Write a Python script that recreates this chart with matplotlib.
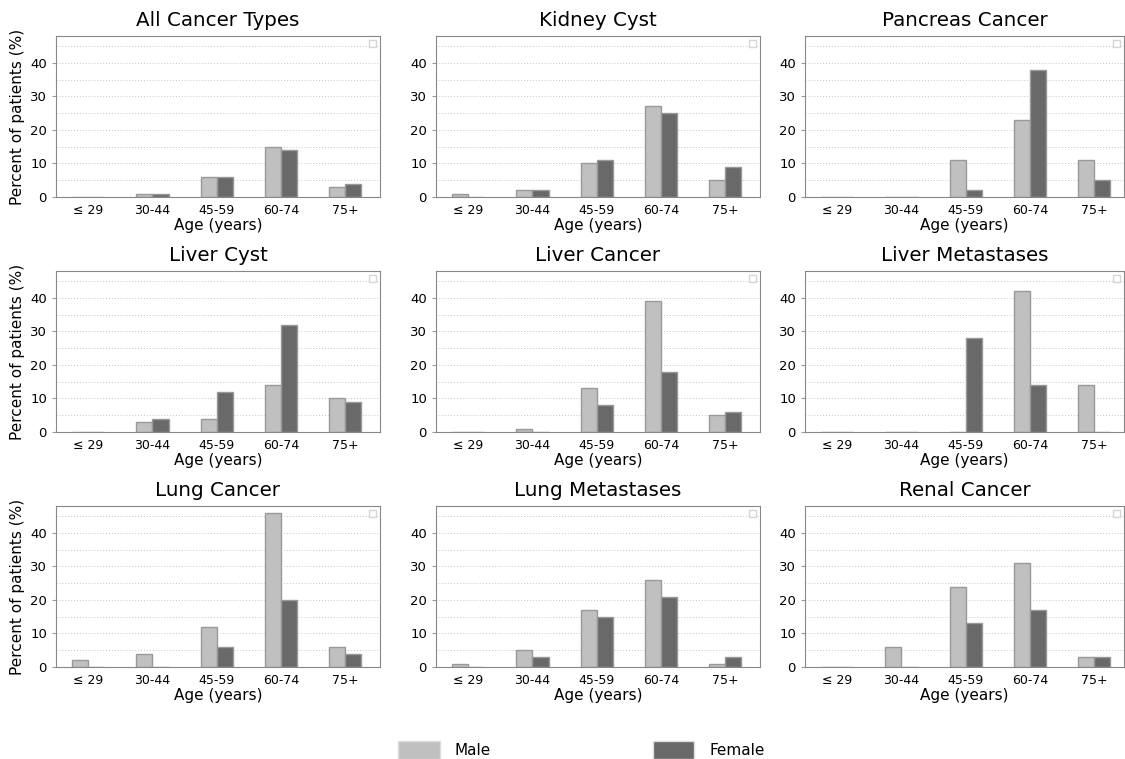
import matplotlib.pyplot as plt
import matplotlib.patches as mpatches
import numpy as np

age_groups = ["\u2264 29", "30-44", "45-59", "60-74", "75+"]

titles = ["All Cancer Types", "Kidney Cyst", "Pancreas Cancer",
          "Liver Cyst", "Liver Cancer", "Liver Metastases",
          "Lung Cancer", "Lung Metastases", "Renal Cancer"]

male = [
    [0, 1, 6, 15, 3],
    [1, 2, 10, 27, 5],
    [0, 0, 11, 23, 11],
    [0, 3, 4, 14, 10],
    [0, 1, 13, 39, 5],
    [0, 0, 0, 42, 14],
    [2, 4, 12, 46, 6],
    [1, 5, 17, 26, 1],
    [0, 6, 24, 31, 3],
]
female = [
    [0, 1, 6, 14, 4],
    [0, 2, 11, 25, 9],
    [0, 0, 2, 38, 5],
    [0, 4, 12, 32, 9],
    [0, 0, 8, 18, 6],
    [0, 0, 28, 14, 0],
    [0, 0, 6, 20, 4],
    [0, 3, 15, 21, 3],
    [0, 0, 13, 17, 3],
]

MALE_C = "#c0c0c0"
FEMALE_C = "#696969"
EDGE_C = "#999999"

fig = plt.figure(figsize=(11.25, 7.59), dpi=100)

# axes placement in pixels (left, right) and (top, bottom)
cols = [(56, 380), (436, 760), (805, 1124)]
rows = [(36, 197), (271, 432), (506, 667)]
W, H = 1125.0, 759.0

x = np.arange(len(age_groups))
bw = 0.25

for i, title in enumerate(titles):
    r, c = divmod(i, 3)
    l, rr = cols[c]
    t, b = rows[r]
    ax = fig.add_axes([l / W, 1 - b / H, (rr - l) / W, (b - t) / H])
    ax.bar(x - bw / 2, male[i], bw, color=MALE_C, edgecolor=EDGE_C, linewidth=1)
    ax.bar(x + bw / 2, female[i], bw, color=FEMALE_C, edgecolor=EDGE_C, linewidth=1)
    ax.set_xlim(-0.5, -0.5 + (rr - l) / 64.3)
    ax.set_ylim(0, 48)
    ax.set_yticks([0, 10, 20, 30, 40])
    ax.set_yticks(np.arange(5, 50, 10), minor=True)
    ax.set_xticks(x)
    ax.set_xticklabels(age_groups, fontsize=9)
    ax.tick_params(axis="y", labelsize=9.5, length=3, color=EDGE_C)
    ax.tick_params(axis="y", which="minor", length=0)
    ax.tick_params(axis="x", length=0, pad=5)
    ax.grid(axis="y", which="both", linestyle=(0, (1, 2)), color="#c4c4c4", linewidth=0.7)
    ax.set_axisbelow(True)
    for s in ax.spines.values():
        s.set_color("#888888")
    ax.set_title(title, fontsize=14.3, pad=7)
    ax.set_xlabel("Age (years)", fontsize=11, labelpad=1)
    if c == 0:
        ax.set_ylabel("Percent of patients (%)", fontsize=11)
    # tiny empty legend box in the corner
    ax.legend(handles=[], loc="upper right", frameon=True, fancybox=False,
              borderpad=0.25, borderaxespad=0.3, edgecolor="#cccccc")

handles = [mpatches.Patch(facecolor=MALE_C, edgecolor="#dddddd", label="Male"),
           mpatches.Patch(facecolor=FEMALE_C, edgecolor="#dddddd", label="Female")]
fig.legend(handles=handles, loc="lower center", bbox_to_anchor=(0.517, -0.008),
           borderaxespad=0.0, ncol=2, frameon=False, fontsize=11,
           handlelength=2.7, handleheight=1.45, handletextpad=1.0,
           columnspacing=10.6)

fig.savefig("out.png", dpi=100)
